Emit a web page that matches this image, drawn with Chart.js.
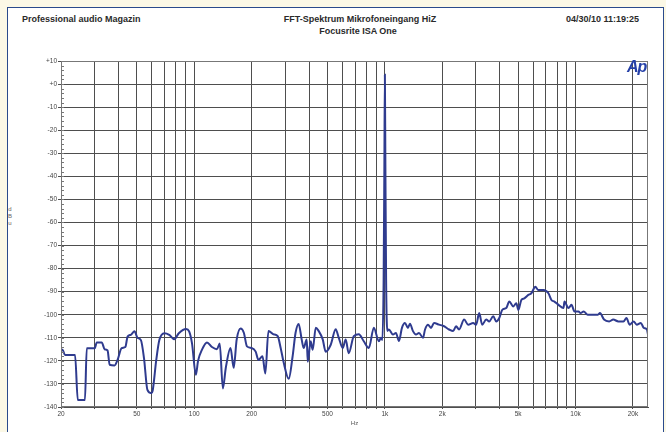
<!DOCTYPE html>
<html>
<head>
<meta charset="utf-8">
<script src="https://cdn.jsdelivr.net/npm/chart.js@4"></script>
<style>
    body { margin: 0; width: 666px; height: 432px; background: #fbf8e6; overflow: hidden; font-family: "Liberation Sans", Arial, sans-serif; }
    #frame { position: absolute; left: 7px; top: 7px; width: 655px; height: 440px; border: 1.5px solid #2a4a8c; background: #ffffff; }
    #chartBox { position: absolute; left: 0; top: 0; width: 666px; height: 432px; }
    .hdr { position: absolute; font-size: 9px; font-weight: bold; color: #2a2a2a; white-space: nowrap; }
    #logo { position: absolute; left: 627px; top: 58px; font-size: 16px; font-weight: 900; font-style: italic; color: #2540a8; letter-spacing: -1px; }
    #unit { position: absolute; left: 7px; top: 206px; font-size: 6px; color: #666; line-height: 7px; text-align: center; width: 6px; }
</style>
</head>
<body>
<div id="frame"></div>
<div class="hdr" style="left:22px; top:14px;">Professional audio Magazin</div>
<div class="hdr" style="left:360px; top:14px; transform:translateX(-50%);">FFT-Spektrum Mikrofoneingang HiZ</div>
<div class="hdr" style="left:358px; top:26px; transform:translateX(-50%);">Focusrite ISA One</div>
<div class="hdr" style="left:566px; top:14px;">04/30/10 11:19:25</div>
<div id="unit">d<br>B<br>u</div>
<div id="chartBox"><canvas id="fftChart" width="666" height="432"></canvas></div>
<div id="logo">Ap</div>

<script>
// Values (frequency in Hz, level in dBu)
const freqHz = [
    20, 20.5, 21, 23.7, 24.5, 26.7, 27.3, 30.1, 30.8, 32.7,
    33.9, 35.1, 36, 38.2, 39.6, 41.6, 43.5, 44.7, 46.5, 48.6,
    50.4, 52.5, 54.5, 56.8, 59.6, 60.5, 63.2, 65.6, 69.7, 73.9,
    78.5, 83, 90.6, 94, 97.3, 102, 104.7, 110, 116.6, 123.8,
    131.4, 136, 141.3, 146.4, 155, 161, 167, 175, 182, 189,
    200, 210, 217, 228, 236, 245, 261, 274, 284, 294,
    313, 328, 340, 353, 366, 375, 389, 394, 408, 418,
    434, 449, 472, 489, 520, 552, 573, 601, 623, 646,
    687, 730, 775, 824, 875, 930, 953, 970, 985, 994,
    1000, 1006, 1015, 1030, 1049, 1102, 1143, 1185, 1229, 1274,
    1321, 1354, 1404, 1456, 1510, 1585, 1624, 1683, 1746, 1811,
    1923, 2044, 2172, 2280, 2364, 2450, 2604, 2734, 2904, 3012,
    3124, 3239, 3400, 3527, 3701, 3838, 3981, 4128, 4332, 4494,
    4716, 4891, 5012, 5197, 5390, 5656, 5866, 6156, 6384, 6785,
    7208, 7475, 7752, 8139, 8646, 8750, 9183, 9523, 9876, 10370,
    10635, 11035, 11595, 12327, 13108, 13436, 14113, 15012, 15772, 16774,
    17840, 18509, 19205, 20180, 20940, 21990, 22820, 23680, 24000
];
const levelDbu = [
    -115, -115.5, -117.5, -117.5, -137, -137, -114.5, -114.5, -112, -112,
    -115, -115.5, -121.7, -122, -119.6, -114.5, -114, -109.5, -108.7, -107.2,
    -110, -111, -118.8, -132.6, -134, -133, -119.6, -111, -108, -108.7,
    -110.6, -108, -106.2, -107.2, -112.3, -126, -120, -115, -112, -114,
    -115, -112.5, -132, -123, -114.4, -123, -110.7, -106, -107.8, -113.7,
    -114.4, -116, -119.6, -118, -125.5, -107, -108.5, -109.3, -114.4, -120.4,
    -127.8, -118.1, -107.8, -104, -110.7, -114.4, -110.7, -120.4, -111.5, -115.2,
    -105.6, -107, -110.7, -116, -113, -106.3, -110, -114.4, -110.7, -116.7,
    -109.3, -108.5, -111.5, -114.4, -105.6, -111.5, -110, -111, -85, -35,
    4, -35, -85, -107, -106.4, -108.6, -107.9, -111.4, -105.7, -103.6,
    -105.7, -103.9, -107.1, -108.6, -107.9, -110, -106.4, -104.3, -105.7, -103.6,
    -104.3, -105, -106.4, -107.1, -105, -106.4, -102.1, -104.3, -103.6, -104.3,
    -99.3, -104.3, -102.1, -102.9, -100.7, -102.9, -101.4, -97.9, -97.1, -94.3,
    -96.4, -95, -97.9, -93.6, -92.9, -91.4, -90.7, -87.9, -89.3, -89.3,
    -90.7, -93.6, -94.3, -95.7, -97.1, -94.3, -97.1, -95.7, -98.6, -98.6,
    -99.3, -98.6, -100, -100, -100, -99.3, -102.1, -102.9, -102.1, -102.9,
    -102.9, -101.4, -104.3, -102.9, -104.3, -103.6, -105.7, -106.4, -108.6
];

// Axis ticks
const xGridHz = [20, 30, 40, 50, 60, 70, 80, 90, 100, 200, 300, 400, 500, 600, 700, 800, 900,
    1000, 2000, 3000, 4000, 5000, 6000, 7000, 8000, 9000, 10000, 20000];
const xLabels = { 20: "20", 50: "50", 100: "100", 200: "200", 500: "500", 1000: "1k",
    2000: "2k", 5000: "5k", 10000: "10k", 20000: "20k" };
const yTicks = [10, 0, -10, -20, -30, -40, -50, -60, -70, -80, -90, -100, -110, -120, -130, -140];

const gridColor = "#4e4e4e";

// plot frame + small 2 dB ticks on the left axis
const framePlugin = {
    id: "frame",
    afterDraw(chart) {
        const { ctx, chartArea } = chart;
        const y = chart.scales.y;
        ctx.save();
        ctx.strokeStyle = "#777";
        ctx.lineWidth = 1;
        ctx.strokeRect(chartArea.left + 0.5, chartArea.top + 0.5,
            chartArea.right - chartArea.left - 1, chartArea.bottom - chartArea.top - 1);
        ctx.beginPath();
        for (let v = -140; v <= 10; v += 2) {
            const py = Math.round(y.getPixelForValue(v)) + 0.5;
            ctx.moveTo(chartArea.left, py);
            ctx.lineTo(chartArea.left + 3, py);
        }
        ctx.stroke();
        ctx.restore();
    }
};

function renderChart() {
    const ctx = document.getElementById("fftChart").getContext("2d");
    new Chart(ctx, {
        type: "line",
        data: {
            datasets: [{
                data: freqHz.map((f, i) => ({ x: f, y: levelDbu[i] })),
                borderColor: "#2f3b8f",
                borderWidth: 2,
                pointRadius: 0,
                cubicInterpolationMode: "monotone"
            }]
        },
        options: {
            responsive: false,
            animation: false,
            layout: { padding: { left: 4, right: 18, top: 61, bottom: 0 } },
            plugins: { legend: { display: false }, tooltip: { enabled: false } },
            scales: {
                x: {
                    type: "logarithmic",
                    min: 20,
                    max: 24000,
                    afterBuildTicks: (scale) => { scale.ticks = xGridHz.map(v => ({ value: v })); },
                    afterFit: (scale) => { scale.height = 25; },
                    grid: { color: gridColor, lineWidth: 1, tickLength: 2 },
                    border: { color: gridColor },
                    ticks: {
                        autoSkip: false,
                        maxRotation: 0,
                        padding: 1,
                        color: "#444",
                        font: { family: "Liberation Sans", size: 6.5 },
                        callback: (v) => xLabels[v] || ""
                    },
                    title: {
                        display: true,
                        text: "Hz",
                        color: "#555",
                        font: { family: "Liberation Sans", size: 6 },
                        padding: { top: 0, bottom: 5 }
                    }
                },
                y: {
                    min: -140,
                    max: 10,
                    afterBuildTicks: (scale) => { scale.ticks = yTicks.map(v => ({ value: v })); },
                    afterFit: (scale) => { scale.width = 57; },
                    grid: { color: gridColor, lineWidth: 1, tickLength: 3 },
                    border: { color: gridColor },
                    ticks: {
                        padding: 1,
                        color: "#444",
                        font: { family: "Liberation Sans", size: 6.5 },
                        callback: (v) => (v >= 0 ? "+" + v : String(v))
                    }
                }
            }
        },
        plugins: [framePlugin]
    });
}

document.addEventListener("DOMContentLoaded", () => {
    renderChart();
});
</script>
</body>
</html>
